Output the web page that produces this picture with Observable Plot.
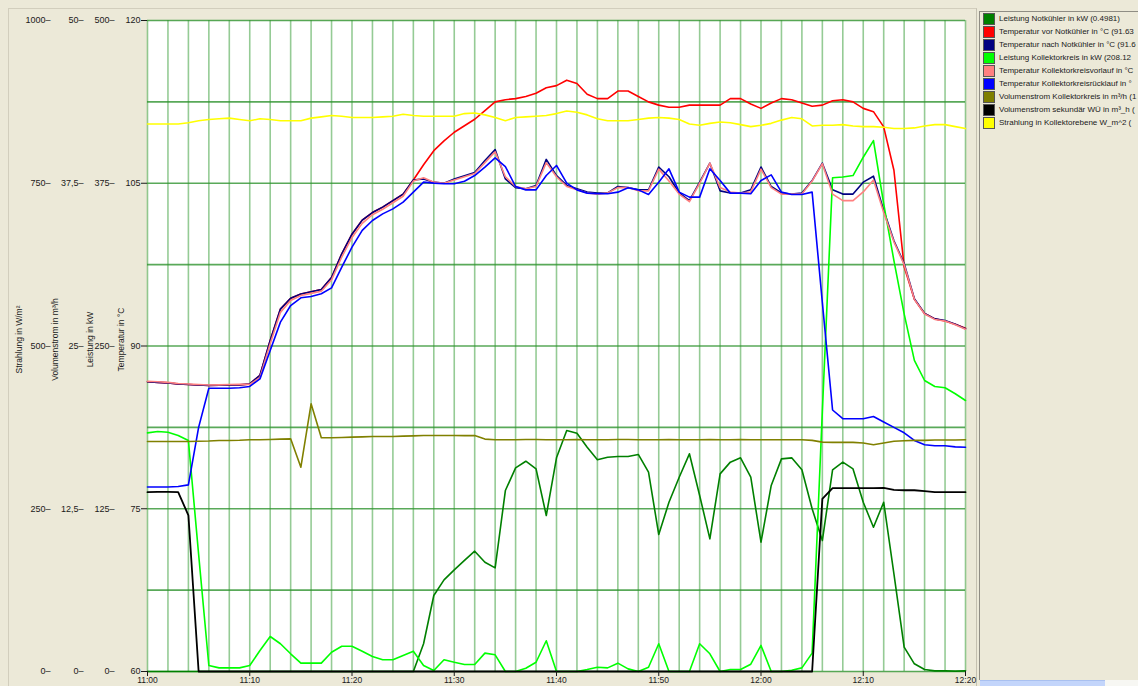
<!DOCTYPE html>
<html><head><meta charset="utf-8">
<script src="https://cdn.jsdelivr.net/npm/d3@7"></script>
<script src="https://cdn.jsdelivr.net/npm/@observablehq/plot@0.6"></script>
<style>
html,body{margin:0;padding:0;background:#ECE9D8;}
#wrap{position:relative;width:1138px;height:686px;overflow:hidden;font-family:"Liberation Sans",Arial,sans-serif;background:#ECE9D8;}
#panel{position:absolute;left:8px;top:8px;width:967px;height:700px;border-left:1px solid #d2cebd;border-top:1px solid #d2cebd;border-right:1px solid #c4c0b0;}
#chart{position:absolute;left:0;top:0;}
#legend{position:absolute;left:979px;top:11px;width:170px;height:668px;border-left:1px solid #8f8d84;border-top:1px solid #8f8d84;overflow:hidden;}
#scroll{position:absolute;left:980px;top:680px;width:125px;height:8px;background:#c3d5fb;border-top:1px solid #a9c0f0;}
#scroll2{position:absolute;left:1105px;top:680px;width:40px;height:8px;background:#f7f7f3;}
.row{display:flex;align-items:center;height:13px;white-space:nowrap;font-size:8px;color:#1a1a1a;}
.sw{width:10px;height:10px;border:1px solid #555;margin:0 4px 0 3px;flex:none;}
</style></head>
<body>
<div id="wrap"><div id="panel"></div><div id="chart"></div><div id="legend"></div><div id="scroll"></div><div id="scroll2"></div></div>
<script>
// time axis: minutes after 11:00, one sample per minute
const minutes = d3.range(0, 81);
const timeTicks = [0, 10, 20, 30, 40, 50, 60, 70, 80];
const timeLabels = ["11:00","11:10","11:20","11:30","11:40","11:50","12:00","12:10","12:20"];
const axisFractions = [0, 0.25, 0.5, 0.75, 1];
const tempLabels = ["60","75","90","105","120"];
const leistLabels = ["0","125","250","375","500"];
const volLabels = ["0","12,5","25","37,5","50"];
const strahlLabels = ["0","250","500","750","1000"];
const hGrid = [0, 0.125, 0.25, 0.375, 0.5, 0.625, 0.75, 0.875, 1];
const vGrid = d3.range(0, 81, 2);

// series values (one per minute, 11:00 .. 12:20)
const leistungNotkuehler = [
 0,0,0,0,0,0,0,0,0,0,
 0,0,0,0,0,0,0,0,0,0,
 0,0,0,0,0,0,0,21.3,58.4,70.4,
 78.1,85.3,92.4,83.9,79.6,139,156.4,161.5,155.6,119.8,
 164.1,185.1,183.0,172.3,162.6,164.6,165.1,165.1,166.7,153.1,
 105.2,130.0,149.2,167.2,135.2,101.9,151.8,160.8,164.1,149.2,
 99.3,142.9,163.3,164.1,154.9,125.0,100.6,154.9,160.8,155.6,
 130.0,110.8,130.0,75.0,18.7,5.9,1.5,0.5,0.5,0.3,
 0.4981];
const tempVorNotkuehler = [
 86.7,86.65,86.6,86.5,86.45,86.4,86.36,86.38,86.4,86.42,
 86.5,87.3,90.5,93.4,94.4,94.8,95.0,95.2,96.3,98.5,
 100.3,101.6,102.3,102.8,103.4,104.0,105.3,106.7,108.0,108.9,
 109.7,110.3,110.9,111.7,112.5,112.7,112.8,113.0,113.3,113.8,
 114.0,114.5,114.2,113.2,112.8,112.8,113.5,113.5,113.0,112.5,
 112.2,112.0,112.0,112.2,112.2,112.2,112.2,112.8,112.8,112.3,
 111.9,112.4,112.8,112.7,112.4,112.1,112.2,112.6,112.7,112.5,
 111.9,111.6,110.2,106.2,97.3,94.3,93.0,92.5,92.3,92.0,
 91.63];
const tempNachNotkuehler = [
 86.7,86.65,86.6,86.5,86.45,86.4,86.36,86.38,86.4,86.42,
 86.5,87.3,90.5,93.4,94.4,94.8,95.0,95.2,96.3,98.5,
 100.3,101.6,102.3,102.8,103.4,104.0,105.3,105.4,105.1,105.0,
 105.4,105.7,106.0,107.1,108.1,105.4,104.6,104.5,104.8,107.2,
 105.7,104.8,104.5,104.2,104.1,104.1,104.7,104.6,104.4,104.4,
 106.5,105.6,104.1,103.4,105.1,106.85,104.3,104.1,104.1,104.4,
 106.5,104.7,104.1,104.0,104.1,105.25,106.85,104.4,104.0,104.0,
 105.1,105.65,102.5,99.7,97.6,94.35,93.0,92.5,92.35,92.0,
 91.6];
const leistungKollektor = [
 183.3,184.3,183.8,181.3,177.4,90,4.6,2.8,2.8,2.8,
 4.6,16.1,26.9,21.3,13.6,6.4,6.4,6.4,14.8,19.4,
 19.4,15.6,11.5,9.0,9.0,12.3,15.6,4.6,0.8,9.0,
 7.1,5.4,5.4,14.1,12.8,0,0,2.5,7.1,23.6,
 0,0,0,1.5,3.3,2.8,6.4,2,0,3.3,
 21.3,0,0,0,21.3,13.6,0,1.5,1.5,5.6,
 20,0,0,1,2.8,14.1,200,379.2,379.8,380.9,
 395,407.8,359.2,315.6,274.7,238.9,223.5,218.9,217.9,213.3,
 208.12];
const tempVorlauf = [
 86.75,86.7,86.65,86.55,86.5,86.45,86.4,86.42,86.45,86.47,
 86.45,87.1,90.2,93.1,94.2,94.65,94.85,95.05,96.1,98.2,
 100.0,101.3,102.1,102.6,103.2,103.8,105.2,105.5,105.1,105.0,
 105.3,105.6,105.9,106.9,107.9,105.6,104.7,104.5,104.7,106.9,
 105.6,104.7,104.4,104.1,104.0,104.1,104.6,104.6,104.3,104.3,
 106.3,105.2,104.0,103.3,105.0,106.85,104.6,104.2,104.1,104.2,
 106.3,104.6,104.0,104.0,104.0,105.2,106.8,104.0,103.4,103.4,
 104.2,105.3,102.3,99.6,97.5,94.3,92.95,92.45,92.3,91.95,
 91.55];
const tempRuecklauf = [
 77.0,77.0,77.0,77.05,77.2,82.5,86.1,86.1,86.1,86.15,
 86.27,86.97,89.59,92.2,93.73,94.44,94.56,94.81,95.36,97.27,
 99.11,100.65,101.57,102.18,102.64,103.26,104.18,105.1,105.01,104.95,
 104.95,105.19,105.71,106.48,107.34,106.54,104.7,104.39,104.39,105.71,
 106.64,105.01,104.39,104.09,104.03,104.03,104.18,104.58,104.39,103.96,
 105.1,106.33,104.18,103.72,103.72,106.33,105.25,104.09,104.09,104.03,
 105.25,105.77,104.18,103.96,103.96,104.18,94.0,84.1,83.3,83.3,
 83.3,83.5,83.0,82.5,82.0,81.3,80.9,80.8,80.8,80.7,
 80.67];
const volKollektor = [
 17.66,17.66,17.66,17.66,17.66,17.68,17.7,17.74,17.74,17.76,
 17.8,17.8,17.82,17.85,17.87,15.69,20.56,17.95,17.95,17.97,
 18.0,18.02,18.05,18.05,18.05,18.08,18.1,18.13,18.13,18.13,
 18.13,18.12,18.12,17.85,17.8,17.8,17.8,17.82,17.82,17.8,
 17.8,17.8,17.82,17.8,17.8,17.8,17.82,17.82,17.8,17.8,
 17.8,17.82,17.8,17.8,17.8,17.82,17.8,17.8,17.82,17.8,
 17.8,17.8,17.8,17.8,17.8,17.75,17.62,17.6,17.6,17.6,
 17.55,17.41,17.55,17.68,17.72,17.75,17.75,17.78,17.78,17.78,
 17.8];
const volSekundaer = [
 13.77,13.8,13.8,13.77,12.0,0,0,0,0,0,
 0,0,0,0,0,0,0,0,0,0,
 0,0,0,0,0,0,0,0,0,0,
 0,0,0,0,0,0,0,0,0,0,
 0,0,0,0,0,0,0,0,0,0,
 0,0,0,0,0,0,0,0,0,0,
 0,0,0,0,0,0,13.25,14.08,14.08,14.08,
 14.08,14.08,14.1,13.95,13.92,13.92,13.85,13.77,13.77,13.77,
 13.77];
const strahlung = [
 841,841,841,841,843,846,848,849,850,848,
 846,849,848,846,846,846,850,852,854,853,
 851,851,851,852,853,856,854,853,853,853,
 853,857,858,855,851,846,851,852,853,854,
 857,861,859,855,849,846,846,846,848,850,
 851,850,848,841,839,842,844,843,840,837,
 839,842,847,851,849,838,839,839,840,838,
 837,837,836,834,834,835,838,840,840,837,
 834];

const legendNames = [
 "Leistung Notkühler in kW (0.4981)",
 "Temperatur vor Notkühler in °C (91.63",
 "Temperatur nach Notkühler in °C (91.6",
 "Leistung Kollektorkreis in kW (208.12",
 "Temperatur Kollektorkreisvorlauf in °C",
 "Temperatur Kollektorkreisrücklauf in °",
 "Volumenstrom Kollektorkreis in m³/h (1",
 "Volumenstrom sekundär WÜ in m³_h (",
 "Strahlung in Kollektorebene W_m^2 ("
];
const colors = ["#008000","#ff0000","#000080","#00ff00","#ff8080","#0000ff","#808000","#000000","#ffff00"];

const fT = v => (v - 60) / 60, fP = v => v / 500, fV = v => v / 50, fS = v => v / 1000;
const seriesDefs = [
 [leistungNotkuehler, fP], [tempVorNotkuehler, fT], [tempNachNotkuehler, fT],
 [leistungKollektor, fP], [tempVorlauf, fT], [tempRuecklauf, fT],
 [volKollektor, fV], [volSekundaer, fV], [strahlung, fS]
];

const lineMarks = seriesDefs.map(([vals, conv], k) =>
  Plot.line(minutes.map((m, i) => ({m, v: conv(vals[i])})), {
    x: "m", y: "v", stroke: colors[k], strokeWidth: k === 7 ? 1.8 : 1.6, curve: "linear"
  }));

const sideText = (labels, dx) => Plot.text(axisFractions, {
  y: d => d, text: (d, i) => labels[i] + "–", frameAnchor: "left", textAnchor: "end", dx, fontSize: 9
});
const axisTitle = (t, dx) => Plot.text([t], {
  y: () => 0.51, text: d => d, frameAnchor: "left", textAnchor: "middle", rotate: -90, dx, fontSize: 8.5
});

const chart = Plot.plot({
  width: 1138, height: 686,
  marginLeft: 147, marginRight: 173, marginTop: 20, marginBottom: 15,
  x: {domain: [0, 80]},
  y: {domain: [0, 1]},
  style: "background:transparent;font-family:'Liberation Sans',Arial,sans-serif;color:#1a1a1a;overflow:visible;",
  marks: [
    Plot.frame({fill: "white", stroke: null}),
    Plot.ruleX(vGrid, {x: d => d, stroke: "#4fa84f", strokeWidth: 1.6, strokeOpacity: 0.6}),
    Plot.ruleY(hGrid, {y: d => d, stroke: "#2f942f", strokeWidth: 1.6, strokeOpacity: 0.8}),
    ...lineMarks,
    Plot.axisX({ticks: timeTicks, tickFormat: d => timeLabels[timeTicks.indexOf(d)], tickSize: 5, tickPadding: 0, label: null, fontSize: 8.5}),
    Plot.axisY({ticks: axisFractions, tickFormat: d => tempLabels[axisFractions.indexOf(d)], tickSize: 6, tickPadding: 1, label: null, fontSize: 9}),
    sideText(leistLabels, -33),
    sideText(volLabels, -64),
    sideText(strahlLabels, -97),
    axisTitle("Temperatur in °C", -26),
    axisTitle("Leistung in kW", -57),
    axisTitle("Volumenstrom in m³/h", -92),
    axisTitle("Strahlung in W/m²", -128)
  ]
});
document.getElementById("chart").appendChild(chart);

const leg = document.getElementById("legend");
legendNames.forEach((n, k) => {
  const row = document.createElement("div");
  row.className = "row";
  const sw = document.createElement("div");
  sw.className = "sw";
  sw.style.background = colors[k];
  const tx = document.createElement("span");
  tx.textContent = n;
  row.appendChild(sw); row.appendChild(tx);
  leg.appendChild(row);
});
</script>
</body></html>
